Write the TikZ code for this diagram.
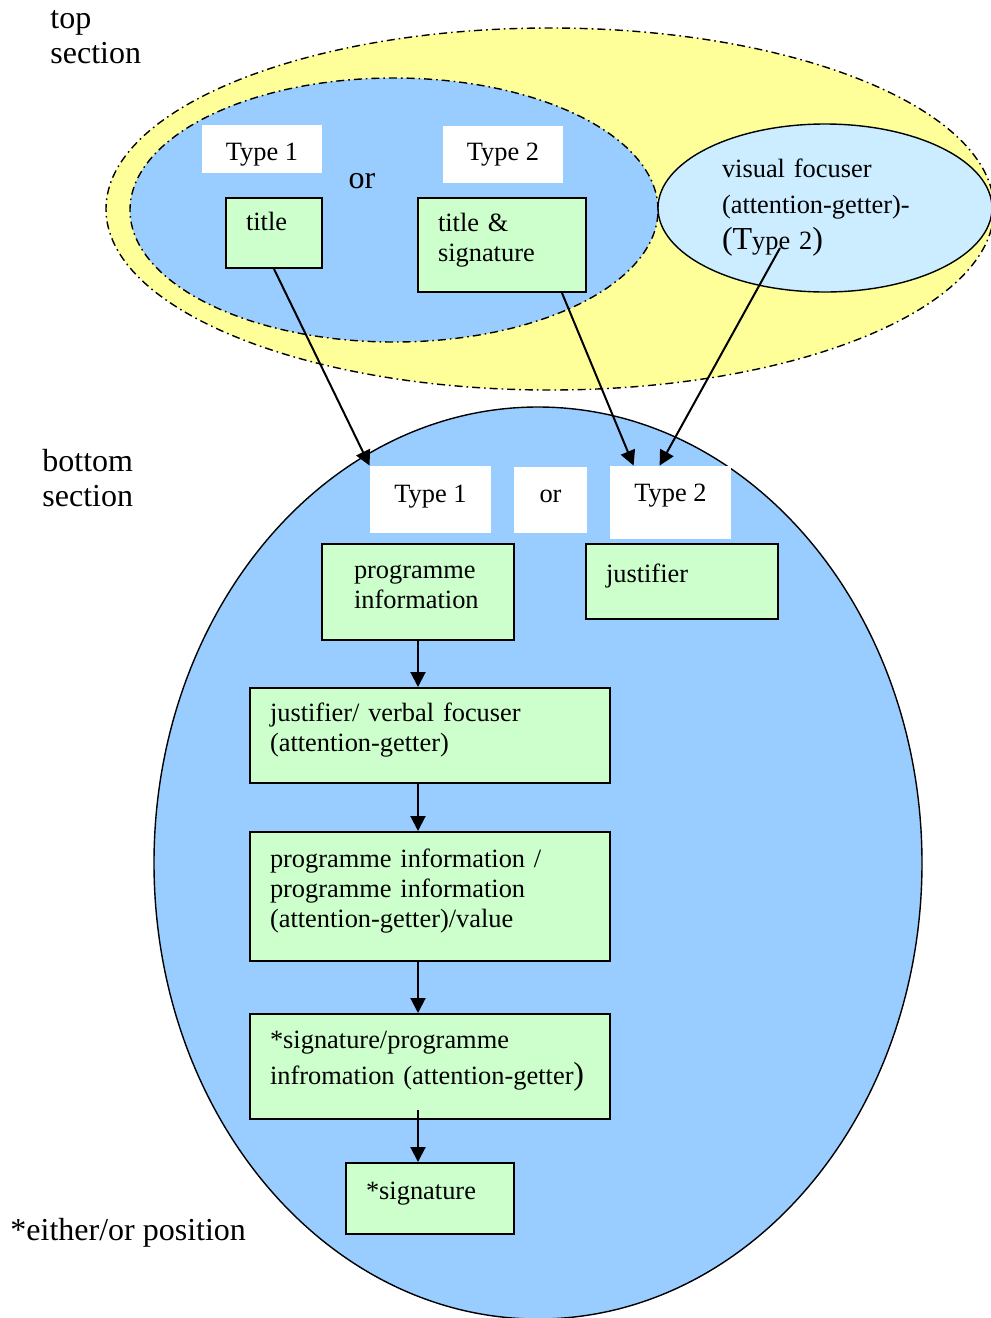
\documentclass[tikz,border=0pt]{standalone}
\usepackage{fontspec}
\setmainfont{Liberation Serif}
\usetikzlibrary{shapes.geometric, arrows.meta}

\definecolor{topyellow}{HTML}{FFFF99}
\definecolor{zoneblue}{HTML}{99CCFF}
\definecolor{focusblue}{HTML}{CCECFF}
\definecolor{stepgreen}{HTML}{CCFFCC}

\begin{document}
\begin{tikzpicture}[
    x=0.5pt, y=-0.5pt,
    font=\fontsize{13.2}{15}\selectfont,
    zone/.style={ellipse, draw, inner sep=0pt, line width=0.7pt},
    dashzone/.style={zone, dash pattern=on 4pt off 2pt on 0.8pt off 2pt},
    block/.style={rectangle, draw, fill=stepgreen, align=left, inner xsep=10pt, inner ysep=0pt, line width=1pt,
                  execute at end node={\endgraf\vspace{5pt}}},
    typebox/.style={rectangle, fill=white, inner sep=0pt, text height=9pt, text depth=3pt},
    sectiontag/.style={font=\fontsize{16}{17.5}\selectfont, align=left, anchor=west, inner sep=0pt},
    arrow/.style={-{Triangle[length=7.5pt,width=7.5pt]}, line width=1pt},
  ]
  \useasboundingbox (0,0) rectangle (991,1318);

  % top section
  \node[dashzone, fill=topyellow, minimum width=444pt, minimum height=181pt] (topzone) at (550,209) {};
  \node[dashzone, fill=zoneblue, minimum width=264pt, minimum height=132pt] (choicezone) at (394,210) {};
  \node[zone, fill=focusblue, minimum width=167pt, minimum height=84pt, align=left, text width=103pt,
        font=\fontsize{13.2}{18}\selectfont] (vf) at (825,208)
    {visual focuser\\(attention-getter)-\\{\fontsize{16}{18}\selectfont(T}ype 2{\fontsize{16}{18}\selectfont)}};

  \node[typebox, minimum width=60pt, minimum height=24pt, text height=14pt] (t1top) at (262,149) {Type 1};
  \node[typebox, minimum width=60pt, minimum height=28.5pt] (t2top) at (503,154.5) {Type 2};
  \node[font=\fontsize{16}{18}\selectfont, inner sep=0pt] (ortop) at (362,181) {or};

  \node[block, minimum width=48pt, minimum height=35pt, text width=28pt,
        execute at end node={\endgraf\vspace{7pt}}] (title) at (274,233) {title};
  \node[block, minimum width=84pt, minimum height=47pt, text width=64pt] (titlesig) at (502,245) {title \&\\signature};

  % bottom section
  \node[zone, fill=zoneblue, minimum width=384pt, minimum height=456pt] (bottomzone) at (538,863) {};

  \node[typebox, minimum width=60.5pt, minimum height=33.5pt, text depth=6pt] (t1bot) at (430.5,499.5) {Type 1};
  \node[typebox, minimum width=36.5pt, minimum height=33pt, text depth=7pt] (orbot) at (550.5,500) {or};
  \node[typebox, minimum width=60.5pt, minimum height=36.5pt, text depth=10pt] (t2bot) at (670.5,502.5) {Type 2};

  \node[block, minimum width=96pt, minimum height=48pt, inner xsep=16pt, text width=64pt] (proginfo) at (418,592) {programme\\information};
  \node[block, minimum width=96pt, minimum height=37.5pt, text width=76pt] (justifier) at (682,581.5) {justifier};
  \node[block, minimum width=180pt, minimum height=47.5pt, text width=160pt] (verbal) at (430,735.5) {justifier/ verbal focuser\\(attention-getter)};
  \node[block, minimum width=180pt, minimum height=64.5pt, text width=160pt] (progval) at (430,896.5) {programme information /\\programme information\\(attention-getter)/value};
  \node[block, minimum width=180pt, minimum height=52.5pt, text width=160pt] (sigprog) at (430,1066.5)
    {*signature/programme\\[3pt]infromation (attention-getter{\fontsize{16}{18}\selectfont)}};
  \node[block, minimum width=84pt, minimum height=35.5pt, text width=64pt] (sig) at (430,1198.5) {*signature};

  % arrows
  \draw[arrow] (title.south) -- (t1bot.north west);
  \draw[arrow] ([xshift=30pt]titlesig.south) -- ([xshift=12pt]t2bot.north west);
  \draw[arrow] ([xshift=-22.5pt,yshift=-20pt]vf.center) -- ([xshift=25pt]t2bot.north west);

  \draw[arrow] (proginfo.south) -- (proginfo.south |- verbal.north);
  \draw[arrow] (verbal.south -| proginfo.south) -- (progval.north -| proginfo.south);
  \draw[arrow] (progval.south -| proginfo.south) -- (sigprog.north -| proginfo.south);
  \path (sigprog.south -| proginfo.south) ++(0,-10) coordinate (sigstart);
  \draw[arrow] (sigstart) -- (sig.north -| proginfo.south);

  % labels
  \node[sectiontag] (toptag) at (50,37) {top\\section};
  \node[sectiontag] (bottomtag) at (42,478) {bottom\\section};
  \node[sectiontag] (notetag) at (10,1233) {*either/or position};

\end{tikzpicture}
\end{document}
